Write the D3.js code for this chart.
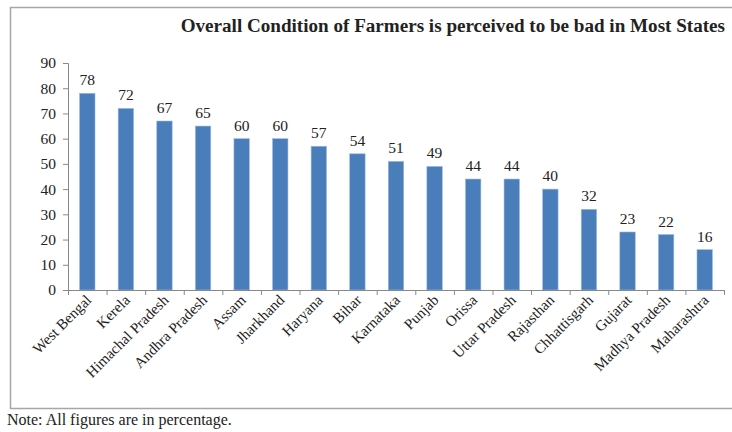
<!DOCTYPE html>
<html>
<head>
<meta charset="utf-8">
<script src="https://cdn.jsdelivr.net/npm/d3@7"></script>
<style>
  html, body { margin: 0; padding: 0; background: #fff; }
  svg { display: block; }
  text { font-family: "Liberation Serif", "Times New Roman", serif; fill: #222; }
</style>
</head>
<body>
<svg id="chart" width="732" height="432"></svg>
<script>
// Share of respondents rating farmers' condition as bad, by state (%)
const states = ["West Bengal", "Kerela", "Himachal Pradesh", "Andhra Pradesh", "Assam",
  "Jharkhand", "Haryana", "Bihar", "Karnataka", "Punjab", "Orissa", "Uttar Pradesh",
  "Rajasthan", "Chhattisgarh", "Gujarat", "Madhya Pradesh", "Maharashtra"];
const values = [78, 72, 67, 65, 60, 60, 57, 54, 51, 49, 44, 44, 40, 32, 23, 22, 16];
const yTicks = [0, 10, 20, 30, 40, 50, 60, 70, 80, 90];

const svg = d3.select("#chart");

// chart frame
svg.append("rect")
  .attr("x", 10.5).attr("y", 7.5)
  .attr("width", 740).attr("height", 401)
  .attr("fill", "none").attr("stroke", "#a6a6a6").attr("stroke-width", 1.5);

svg.append("text")
  .attr("x", 725).attr("y", 32)
  .attr("text-anchor", "end")
  .attr("font-size", 19.1).attr("font-weight", "bold")
  .text("Overall Condition of Farmers is perceived to be bad in Most States");

const x = d3.scaleBand().domain(states).range([68, 724]).paddingInner(0.6).paddingOuter(0.3);
const y = d3.scaleLinear().domain([0, 90]).range([290, 63]);

// bars
svg.append("g").selectAll("rect").data(values).join("rect")
  .attr("x", (d, i) => x(states[i]))
  .attr("y", d => y(d))
  .attr("width", x.bandwidth())
  .attr("height", d => y(0) - y(d))
  .attr("fill", "#4a7ebb")
  .attr("stroke", "#9fbbe0").attr("stroke-width", 0.6);

// value labels
svg.append("g").selectAll("text").data(values).join("text")
  .attr("x", (d, i) => x(states[i]) + x.bandwidth() / 2)
  .attr("y", d => y(d) - 8)
  .attr("text-anchor", "middle")
  .attr("font-size", 15.5)
  .text(d => d);

// y axis
const yAxis = svg.append("g").attr("transform", "translate(68,0)")
  .call(d3.axisLeft(y).tickValues(yTicks).tickSize(5).tickPadding(7));
yAxis.select(".domain").attr("stroke", "#888");
yAxis.selectAll(".tick line").attr("stroke", "#888");
yAxis.selectAll(".tick text")
  .attr("font-size", 15.5).attr("fill", "#222");

// x axis with ticks at category boundaries
const step = x.step();
const xBase = svg.append("g");
xBase.append("line")
  .attr("x1", 68).attr("x2", 724).attr("y1", 290.5).attr("y2", 290.5)
  .attr("stroke", "#888");
xBase.selectAll("line.tk").data(d3.range(states.length + 1)).join("line")
  .attr("class", "tk")
  .attr("x1", i => 68 + i * step + 0.5).attr("x2", i => 68 + i * step + 0.5)
  .attr("y1", 290).attr("y2", 295)
  .attr("stroke", "#888");

// rotated category labels
svg.append("g").selectAll("text").data(states).join("text")
  .attr("transform", d => `translate(${x(d) + x.bandwidth() / 2 + 5},${301}) rotate(-45)`)
  .attr("text-anchor", "end")
  .attr("font-size", 15)
  .text(d => d);

svg.append("text")
  .attr("x", 7).attr("y", 425)
  .attr("font-size", 16)
  .text("Note: All figures are in percentage.");
</script>
</body>
</html>
